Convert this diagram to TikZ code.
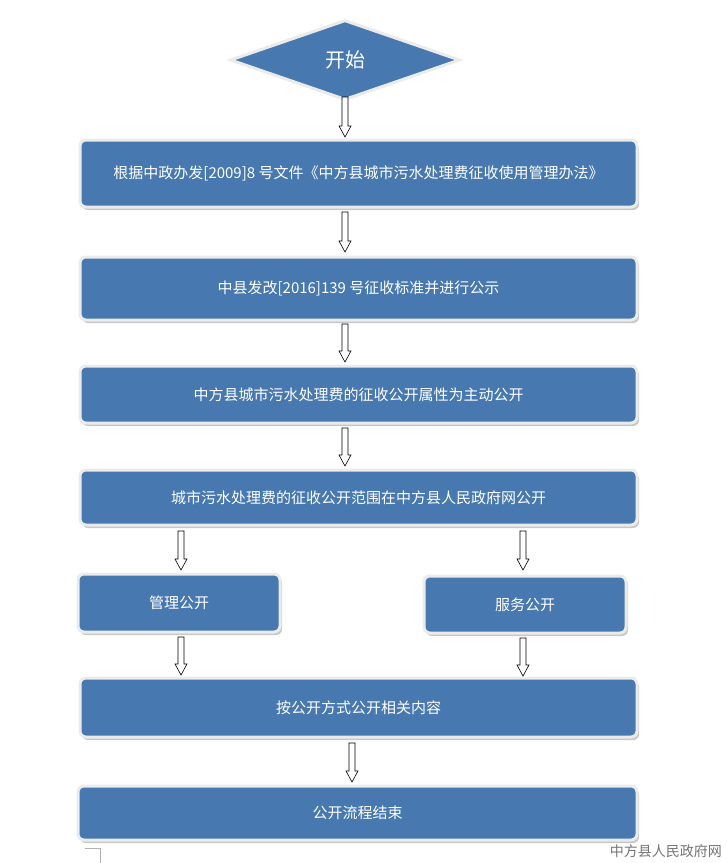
\documentclass[tikz,border=0pt]{standalone}
\usepackage{fontspec}
\newfontfamily\cjk{Noto Sans CJK SC}
\usetikzlibrary{shapes.geometric,calc}
\definecolor{boxblue}{HTML}{4779B0}
\tikzset{
  box/.style={draw=black!8,line width=3pt,fill=boxblue,rounded corners=6pt,text=white,font=\cjk\fontsize{15}{18}\selectfont,inner sep=0pt},
  shad/.style={fill=black!22,rounded corners=6pt}
}
\newcommand\barrow[3]{\draw[fill=white,line width=0.6pt] ({#1-3},{#2}) -- ({#1+3},{#2}) -- ({#1+3},{#3-11}) -- ({#1+6},{#3-11}) -- ({#1},{#3}) -- ({#1-6},{#3-11}) -- ({#1-3},{#3-11}) -- cycle;}
\newcommand\bx[6]{\fill[shad] (#2+2,#3+3) rectangle (#4+2,#5+3);
\node[box,minimum width=#4-#2,minimum height=#5-#3] (#1) at ({(#2+#4)/2},{(#3+#5)/2}) {#6};}
\begin{document}
\begin{tikzpicture}[x=1pt,y=-1pt]
\useasboundingbox (0,0) rectangle (727,863);
\node[diamond,aspect=2.9,minimum width=230,minimum height=80,inner sep=0pt,fill=boxblue,draw=black!8,line width=3pt,text=white,font=\cjk\fontsize{20}{24}\selectfont] (start) at (345,60) {开始};
\bx{b1}{80}{140}{637}{207}{根据中政办发[2009]8 号文件《中方县城市污水处理费征收使用管理办法》}
\bx{b2}{80}{257}{637}{320}{中县发改[2016]139 号征收标准并进行公示}
\bx{b3}{80}{366}{637}{423}{中方县城市污水处理费的征收公开属性为主动公开}
\bx{b4}{80}{470}{637}{525}{城市污水处理费的征收公开范围在中方县人民政府网公开}
\bx{b5a}{78}{574}{280}{632}{管理公开}
\bx{b5b}{424}{576}{626}{633}{服务公开}
\bx{b6}{80}{678}{637}{737}{按公开方式公开相关内容}
\bx{b7}{78}{786}{637}{840}{公开流程结束}
\barrow{345}{97}{137}
\barrow{345}{212}{252}
\barrow{345}{324}{362}
\barrow{345}{428}{466}
\barrow{181}{531}{570}
\barrow{523}{531}{570}
\barrow{181}{637}{675}
\barrow{523}{638}{676}
\barrow{352}{743}{782}
\node[font=\cjk\fontsize{14}{16}\selectfont,text=black!55,anchor=east,inner sep=0pt] (wm) at (722,851) {中方县人民政府网};
\draw[black!30,line width=0.5pt] (85,848) -- (100,848) (100,848) -- (100,863);
\end{tikzpicture}
\end{document}
